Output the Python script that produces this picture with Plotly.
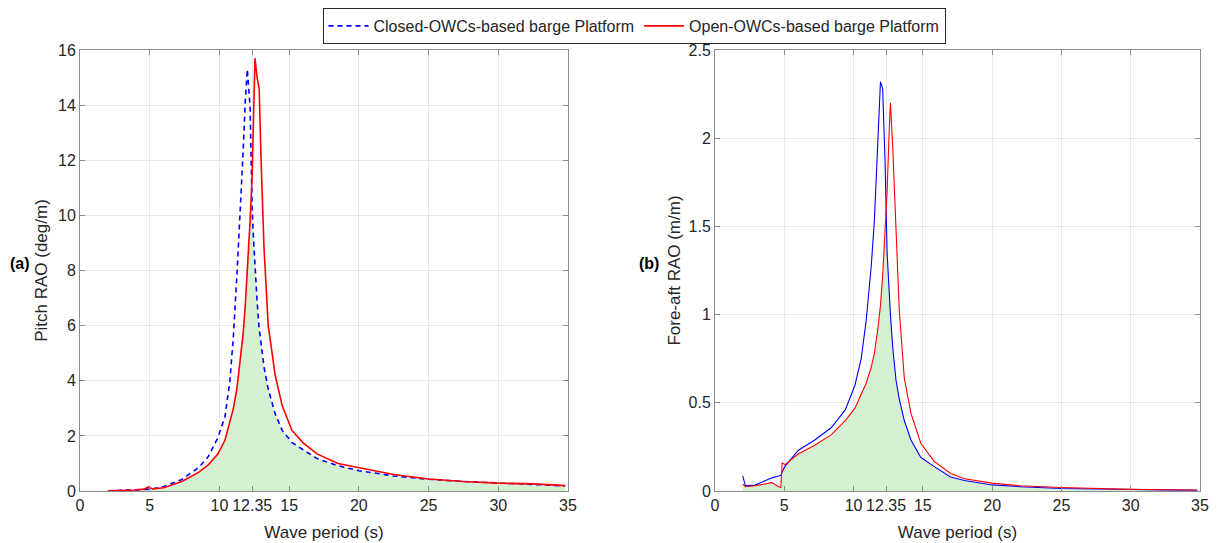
import numpy as np
import plotly.graph_objects as go

# ---------------- data ----------------
# Panel (a): pitch RAO
period_a = [2.0, 3.0, 4.0, 4.6, 4.9, 5.2, 6.0, 7.3, 8.5, 9.2, 9.9, 10.4, 10.75, 11.0, 11.25,
            11.5, 11.7, 11.85, 12.0, 12.2, 12.35, 12.45, 12.55, 12.7, 12.85, 13.0, 13.2, 13.5,
            14.0, 14.5, 15.2, 16.0, 17.0, 18.5, 20.0, 22.5, 25.0, 27.5, 30.0, 32.5, 34.8]
pitch_closed = [0.01, 0.02, 0.04, 0.06, 0.07, 0.08, 0.16, 0.42, 0.85, 1.25, 1.95, 2.7, 4.0, 5.6,
                7.8, 10.2, 12.3, 14.1, 15.3, 13.9, 10.2, 9.1, 8.0, 6.9, 5.9, 5.2, 4.5, 3.7, 2.8,
                2.2, 1.77, 1.5, 1.18, 0.92, 0.74, 0.55, 0.43, 0.35, 0.29, 0.25, 0.19]
pitch_open = [0.01, 0.02, 0.04, 0.07, 0.15, 0.08, 0.12, 0.35, 0.68, 0.95, 1.35, 1.85, 2.5, 3.0,
              3.7, 4.7, 5.7, 6.7, 7.9, 9.8, 11.5, 14.0, 15.7, 15.0, 14.6, 11.8, 8.8, 6.0, 4.2,
              3.1, 2.2, 1.75, 1.35, 1.0, 0.86, 0.6, 0.44, 0.35, 0.29, 0.26, 0.2]

# Panel (b): fore-aft RAO
period_b = [2.0, 2.2, 2.9, 3.6, 4.1, 4.6, 4.75, 4.85, 5.05, 6.0, 7.2, 8.4, 9.4, 10.1, 10.55,
            10.9, 11.27, 11.5, 11.75, 11.94, 12.1, 12.27, 12.42, 12.58, 12.66, 12.82, 13.06,
            13.3, 13.66, 14.14, 14.86, 15.8, 17.0, 18.0, 20.0, 22.0, 25.0, 27.5, 30.0, 32.5, 34.8]
surge_closed = [0.086, 0.03, 0.034, 0.06, 0.075, 0.085, 0.09, 0.11, 0.14, 0.23, 0.29, 0.36,
                0.46, 0.6, 0.75, 0.96, 1.27, 1.53, 1.96, 2.32, 2.28, 1.87, 1.35, 1.1, 1.0,
                0.82, 0.63, 0.52, 0.4, 0.29, 0.19, 0.14, 0.08, 0.06, 0.035, 0.025, 0.015,
                0.012, 0.008, 0.007, 0.005]
surge_open = [0.04, 0.025, 0.03, 0.04, 0.048, 0.025, 0.02, 0.16, 0.15, 0.21, 0.26, 0.32, 0.4,
              0.47, 0.55, 0.61, 0.7, 0.78, 0.92, 1.05, 1.22, 1.45, 1.7, 2.06, 2.2, 1.96, 1.49,
              1.02, 0.64, 0.44, 0.27, 0.17, 0.1, 0.07, 0.045, 0.03, 0.02, 0.014, 0.01,
              0.008, 0.006]

x_tickvals = [0, 5, 10, 12.35, 15, 20, 25, 30, 35]
x_ticktext = ["0", "5", "10", "12.35", "15", "20", "25", "30", "35"]
ya_tickvals = [0, 2, 4, 6, 8, 10, 12, 14, 16]
yb_tickvals = [0, 0.5, 1, 1.5, 2, 2.5]
yb_ticktext = ["0", "0.5", "1", "1.5", "2", "2.5"]

legend_closed = "Closed-OWCs-based barge Platform"
legend_open = "Open-OWCs-based barge Platform"

# ---------------- figure ----------------
# The page body adds an 8px margin, so the figure is 8px smaller than the window.
W, H = 1212, 535
FONT = "Liberation Sans, Arial, Helvetica, sans-serif"
GREEN = "#d5efd2"
fig = go.Figure()

overlap_a = np.minimum(pitch_closed, pitch_open)
overlap_b = np.minimum(surge_closed, surge_open)

fig.add_trace(go.Scatter(x=period_a, y=overlap_a, mode="lines", fill="tozeroy",
                         fillcolor=GREEN, line=dict(width=0), showlegend=False,
                         hoverinfo="skip", xaxis="x", yaxis="y"))
fig.add_trace(go.Scatter(x=period_a, y=pitch_closed, mode="lines", name=legend_closed,
                         line=dict(color="#0000ff", width=1.6, dash="5px,4px"),
                         xaxis="x", yaxis="y"))
fig.add_trace(go.Scatter(x=period_a, y=pitch_open, mode="lines", name=legend_open,
                         line=dict(color="#ff0000", width=1.6),
                         xaxis="x", yaxis="y"))

fig.add_trace(go.Scatter(x=period_b, y=overlap_b, mode="lines", fill="tozeroy",
                         fillcolor=GREEN, line=dict(width=0), showlegend=False,
                         hoverinfo="skip", xaxis="x2", yaxis="y2"))
fig.add_trace(go.Scatter(x=period_b, y=surge_closed, mode="lines", showlegend=False,
                         line=dict(color="#0000ff", width=1.1),
                         xaxis="x2", yaxis="y2"))
fig.add_trace(go.Scatter(x=period_b, y=surge_open, mode="lines", showlegend=False,
                         line=dict(color="#ff0000", width=1.1),
                         xaxis="x2", yaxis="y2"))

axis_common = dict(
    showline=True, linecolor="#8c8c8c", linewidth=1, mirror="ticks",
    ticks="inside", ticklen=5, tickcolor="#8c8c8c", automargin=False,
    showgrid=True, gridcolor="#e6e6e6", gridwidth=1, zeroline=False,
    tickfont=dict(family=FONT, size=16, color="#262626"),
    title_font=dict(family=FONT, size=17, color="#262626"),
)

ydom = [1 - 483 / H, 1 - 41 / H]
fig.update_layout(
    width=W, height=H,
    paper_bgcolor="white", plot_bgcolor="white",
    margin=dict(l=0, r=0, t=0, b=0),
    font=dict(family=FONT, color="#262626"),
    xaxis=dict(domain=[72 / W, 560 / W], range=[0, 35], tickmode="array",
               tickvals=x_tickvals, ticktext=x_ticktext, anchor="y",
               title=dict(text="Wave period (s)", standoff=12), **axis_common),
    yaxis=dict(domain=ydom, range=[0, 16], tickmode="array",
               tickvals=ya_tickvals, anchor="x",
               title=dict(text="Pitch RAO (deg/m)", standoff=6), **axis_common),
    xaxis2=dict(domain=[707 / W, 1192 / W], range=[0, 35], tickmode="array",
                tickvals=x_tickvals, ticktext=x_ticktext, anchor="y2",
                title=dict(text="Wave period (s)", standoff=12), **axis_common),
    yaxis2=dict(domain=ydom, range=[0, 2.5], tickmode="array",
                tickvals=yb_tickvals, ticktext=yb_ticktext, anchor="x2",
                title=dict(text="Fore-aft RAO (m/m)", standoff=3), **axis_common),
    legend=dict(orientation="h", x=626 / W, y=1 - 17 / H, xanchor="center", yanchor="middle",
                bordercolor="#262626", borderwidth=1, bgcolor="white",
                font=dict(family=FONT, size=16, color="#262626"),
                itemwidth=40, tracegroupgap=0),
    showlegend=True,
)

fig.add_annotation(text="<b>(a)</b>", x=0 / W, y=1 - 255 / H, xref="paper", yref="paper",
                   xanchor="left", showarrow=False,
                   font=dict(family=FONT, size=16, color="black"))
fig.add_annotation(text="<b>(b)</b>", x=629 / W, y=1 - 255 / H, xref="paper", yref="paper",
                   xanchor="left", showarrow=False,
                   font=dict(family=FONT, size=16, color="black"))

fig.write_html("out.html")
